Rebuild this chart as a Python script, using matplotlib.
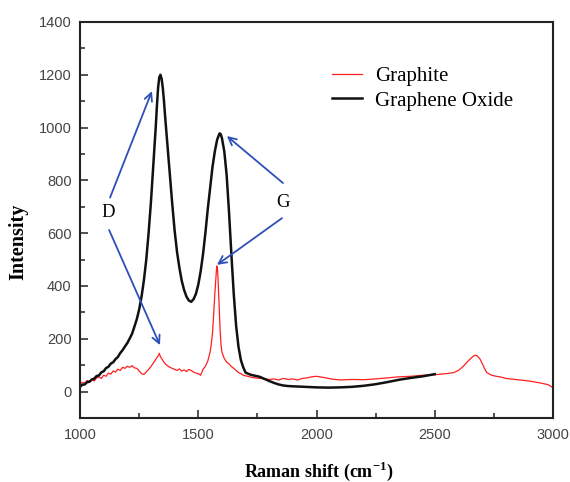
import matplotlib
matplotlib.use("Agg")
import matplotlib.pyplot as plt
from matplotlib.ticker import MultipleLocator

# Graphene oxide spectrum (black)
go_shift = [1000, 1010, 1020, 1030, 1040, 1050, 1060, 1070, 1080, 1090,
            1100, 1110, 1120, 1130, 1140, 1150, 1160, 1170, 1180, 1190,
            1200, 1210, 1220, 1230, 1240, 1250, 1260, 1270, 1280, 1290,
            1300, 1310, 1320, 1325, 1330, 1335, 1340, 1345, 1350, 1355,
            1360, 1370, 1380, 1390, 1400, 1410, 1420, 1430, 1440, 1450,
            1460, 1470, 1480, 1490, 1500, 1510, 1520, 1530, 1540, 1550,
            1560, 1570, 1580, 1590, 1595, 1600, 1610, 1620, 1630, 1640,
            1650, 1660, 1670, 1680, 1690, 1700, 1720, 1740, 1760, 1780,
            1800, 1820, 1840, 1860, 1880, 1900, 1950, 2000, 2050, 2100,
            2150, 2200, 2250, 2300, 2350, 2400, 2450, 2500]
go_int = [18, 26, 27, 36, 37, 46, 49, 59, 61, 73,
          77, 89, 94, 106, 111, 123, 131, 146, 157, 171,
          184, 201, 219, 246, 274, 311, 359, 421, 499, 601,
          720, 860, 1000, 1080, 1150, 1190, 1200, 1185, 1150, 1100,
          1040, 930, 820, 710, 610, 530, 470, 420, 385, 360,
          345, 340, 350, 370, 405, 455, 520, 600, 690, 770,
          850, 910, 955, 978, 975, 960, 910, 820, 680, 520,
          370, 250, 170, 120, 92, 72, 64, 60, 56, 48,
          40, 33, 27, 23, 21, 20, 18, 16, 15, 16,
          18, 22, 28, 36, 45, 52, 58, 66]

# Graphite spectrum (red)
gr_shift = [1000, 1010, 1020, 1030, 1040, 1050, 1060, 1070, 1080, 1090,
            1100, 1110, 1120, 1130, 1140, 1150, 1160, 1170, 1180, 1190,
            1200, 1210, 1220, 1230, 1240, 1250, 1260, 1270, 1280, 1290,
            1300, 1310, 1320, 1330, 1335, 1340, 1350, 1360, 1370, 1380,
            1390, 1400, 1410, 1420, 1430, 1440, 1450, 1460, 1470, 1480,
            1490, 1500, 1510, 1520, 1530, 1540, 1550, 1555, 1560, 1565,
            1570, 1575, 1578, 1581, 1584, 1588, 1592, 1596, 1600, 1610,
            1620, 1630, 1640, 1650, 1660, 1670, 1680, 1690, 1700, 1720,
            1740, 1760, 1780, 1800, 1820, 1840, 1860, 1880, 1900, 1920,
            1940, 1960, 1980, 2000, 2020, 2040, 2060, 2080, 2100, 2150,
            2200, 2250, 2300, 2350, 2400, 2450, 2500, 2550, 2580, 2600,
            2620, 2640, 2660, 2670, 2680, 2690, 2700, 2710, 2720, 2740,
            2760, 2780, 2800, 2850, 2900, 2950, 2980, 3000]
gr_int = [28, 35, 32, 42, 38, 48, 40, 52, 55, 50,
          62, 58, 70, 66, 78, 74, 85, 80, 92, 88,
          96, 92, 98, 90, 88, 78, 68, 65, 74, 84,
          95, 108, 122, 135, 145, 132, 118, 105, 98, 92,
          88, 84, 80, 86, 78, 82, 76, 84, 80, 74,
          70, 68, 62, 84, 96, 115, 150, 180, 220, 290,
          370, 440, 476, 470, 420, 330, 240, 180, 150, 125,
          112, 105, 95, 88, 80, 72, 68, 62, 60, 55,
          52, 50, 48, 46, 48, 44, 50, 46, 48, 44,
          50, 52, 56, 58, 55, 52, 48, 46, 44, 46,
          45, 48, 52, 56, 58, 62, 64, 68, 72, 80,
          95, 115, 132, 138, 135, 125, 108, 88, 72, 62,
          58, 55, 50, 45, 40, 32, 26, 15]

x_ticks = [1000, 1500, 2000, 2500, 3000]
y_ticks = [0, 200, 400, 600, 800, 1000, 1200, 1400]

serif = "Liberation Serif"
sans = "Liberation Sans"
arrow_blue = "#2f4fb8"

plt.rcParams["mathtext.fontset"] = "custom"
plt.rcParams["mathtext.rm"] = "Liberation Serif:bold"
plt.rcParams["mathtext.bf"] = "Liberation Serif:bold"

fig = plt.figure(figsize=(5.7, 4.82), dpi=100)
ax = fig.add_axes([0.1404, 0.1328, 0.8298, 0.8216])

ax.plot(gr_shift, gr_int, color="#ff1f1f", lw=0.9, label="Graphite")
ax.plot(go_shift, go_int, color="#111111", lw=1.8, label="Graphene Oxide")

ax.set_xlim(1000, 3000)
ax.set_ylim(-100, 1400)
ax.set_xticks(x_ticks)
ax.set_yticks(y_ticks)
ax.xaxis.set_minor_locator(MultipleLocator(250))
ax.yaxis.set_minor_locator(MultipleLocator(100))
ax.tick_params(which="both", direction="in", colors="#333333",
               labelsize=10.5, width=1.2)
ax.tick_params(which="major", length=6)
ax.tick_params(which="minor", length=3.5)
ax.tick_params(axis="x", pad=7)
ax.tick_params(axis="y", pad=6)
for lab in ax.get_xticklabels() + ax.get_yticklabels():
    lab.set_family(sans)
    lab.set_color("#444444")
for sp in ax.spines.values():
    sp.set_linewidth(1.5)
    sp.set_color("#222222")

ax.set_xlabel(r"Raman shift (cm$^{-1}$)", family=serif, fontweight="bold",
              fontsize=13, va="center")
ax.xaxis.set_label_coords(0.505, -0.136)
ax.set_ylabel("Intensity", family=serif, fontweight="bold",
              fontsize=14.5, va="center")
ax.yaxis.set_label_coords(-0.131, 0.444)

ax.legend(loc="upper left", bbox_to_anchor=(0.533, 0.888), frameon=False,
          borderpad=0, borderaxespad=0, handlelength=1.45,
          handletextpad=0.62, labelspacing=0.25,
          prop={"family": serif, "size": 15})

# peak labels and arrows
ax.text(1118, 677, "D", family=serif, fontsize=13.5, ha="center", va="center")
ax.text(1858, 718, "G", family=serif, fontsize=13.5, ha="center", va="center")
arrows = [((1127, 735), (1304, 1138)),
          ((1123, 612), (1338, 176)),
          ((1858, 790), (1621, 968)),
          ((1854, 657), (1579, 480))]
for start, end in arrows:
    ax.annotate("", xy=end, xytext=start,
                arrowprops=dict(arrowstyle="->", color=arrow_blue, lw=1.3,
                                mutation_scale=14, shrinkA=0, shrinkB=0))

fig.savefig("out.png", dpi=100)
